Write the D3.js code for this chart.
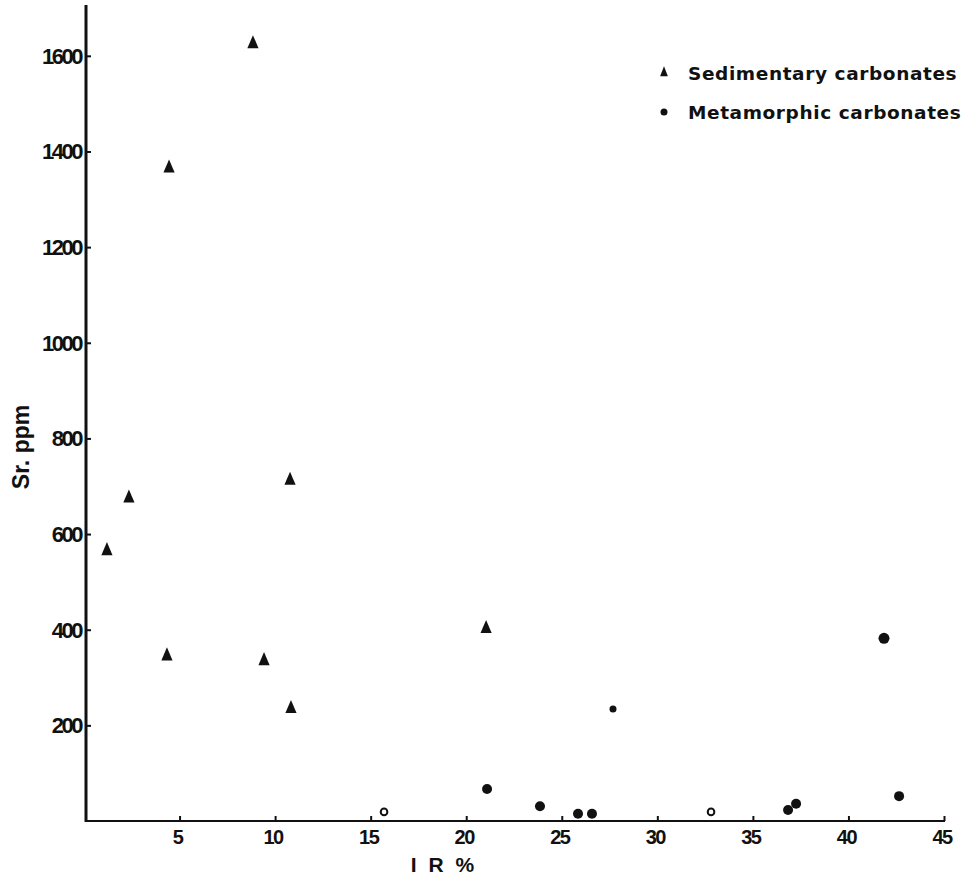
<!DOCTYPE html>
<html><head><meta charset="utf-8">
<script src="https://cdn.jsdelivr.net/npm/d3@7"></script>
<style>
body{margin:0;background:#fff;}
text{font-family:"Liberation Sans",Arial,sans-serif;fill:#111;}
</style></head>
<body>
<svg id="c" width="966" height="876"></svg>
<script>
// Sedimentary carbonates (triangles): IR %, Sr ppm
const sedIR = [8.84, 4.45, 1.2, 2.35, 10.78, 4.34, 9.42, 10.83, 21.04];
const sedSr = [1625, 1365, 565, 675, 712, 345, 335, 235, 402];
// Metamorphic carbonates (filled circles)
const metIR = [21.09, 23.86, 25.85, 26.58, 27.68, 36.84, 37.26, 41.86, 42.65];
const metSr = [67, 31, 15, 15, 234, 23, 36, 382, 52];
const metSize = [5, 5, 5, 5, 3.5, 5, 5, 5.5, 5];
// Open circles
const openIR = [15.7, 32.81];
const openSr = [19, 19];
const xTicks = [5, 10, 15, 20, 25, 30, 35, 40, 45];
const yTicks = [200, 400, 600, 800, 1000, 1200, 1400, 1600];
const legendLabels = ["Sedimentary carbonates", "Metamorphic carbonates"];

const svg = d3.select("#c");
const x = d3.scaleLinear().domain([0, 45]).range([84, 944]);
const y = d3.scaleLinear().domain([0, 1700]).range([821, 8]);

// axes lines
svg.append("line").attr("x1", x(0)+2).attr("x2", x(0)+2).attr("y1", 5).attr("y2", y(0)+1)
  .attr("stroke", "#111").attr("stroke-width", 3);
svg.append("line").attr("x1", x(0)+1).attr("x2", x(45)+1).attr("y1", y(0)).attr("y2", y(0))
  .attr("stroke", "#111").attr("stroke-width", 2.2);

// y ticks
const yAxis = d3.axisRight(y).tickValues(yTicks).tickSize(5).tickFormat("");
const gy = svg.append("g").attr("transform", `translate(${x(0)+2},0)`).call(yAxis);
gy.select(".domain").remove();
gy.selectAll(".tick line").attr("stroke", "#111").attr("stroke-width", 2);
svg.selectAll(".ylab").data(yTicks).enter().append("text")
  .attr("x", 81).attr("y", d => y(d) + 8)
  .attr("text-anchor", "end").attr("font-size", 22).attr("font-weight", "bold")
  .attr("letter-spacing", -2.5).text(d => d);

// x ticks
const xAxis = d3.axisTop(x).tickValues(xTicks).tickSize(5).tickFormat("");
const gx = svg.append("g").attr("transform", `translate(0,${y(0)})`).call(xAxis);
gx.select(".domain").remove();
gx.selectAll(".tick line").attr("stroke", "#111").attr("stroke-width", 2);
svg.selectAll(".xlab").data(xTicks).enter().append("text")
  .attr("x", d => x(d) - 2).attr("y", y(0) + 23)
  .attr("text-anchor", "middle").attr("font-size", 20).attr("font-weight", "bold")
  .attr("letter-spacing", -1.5).text(d => d);

// axis titles
svg.append("text").attr("transform", "translate(29,447) rotate(-90)")
  .attr("text-anchor", "middle").attr("font-size", 23).attr("font-weight", "bold")
  .attr("letter-spacing", 0).text("Sr. ppm");
svg.append("text").attr("x", 444).attr("y", 872)
  .attr("text-anchor", "middle").attr("font-size", 21).attr("font-weight", "bold")
  .attr("letter-spacing", 3).text("I R %");

const tri = d3.symbol().type(d3.symbolTriangle).size(75);
svg.selectAll(".sed").data(sedIR).enter().append("path")
  .attr("d", tri).attr("transform", (d, i) => `translate(${x(d)},${y(sedSr[i])}) scale(0.85,1.15)`)
  .attr("fill", "#111");

svg.selectAll(".met").data(metIR).enter().append("circle")
  .attr("cx", d => x(d)).attr("cy", (d, i) => y(metSr[i])).attr("r", (d, i) => metSize[i])
  .attr("fill", "#111");

svg.selectAll(".open").data(openIR).enter().append("circle")
  .attr("cx", d => x(d)).attr("cy", (d, i) => y(openSr[i])).attr("r", 3.3)
  .attr("fill", "#fff").attr("stroke", "#111").attr("stroke-width", 2);

// legend
svg.append("path").attr("d", d3.symbol().type(d3.symbolTriangle).size(40))
  .attr("transform", "translate(664,73) scale(0.8,1.2)").attr("fill", "#111");
svg.append("circle").attr("cx", 664).attr("cy", 112).attr("r", 3.5).attr("fill", "#111");
svg.selectAll(".leg").data(legendLabels).enter().append("text")
  .attr("x", 688).attr("y", (d, i) => 80 + i * 39)
  .style("font-family", "'DejaVu Sans', sans-serif")
  .attr("font-size", 18.5).attr("font-weight", "bold").attr("letter-spacing", 0.6)
  .text(d => d);
</script>
</body></html>
